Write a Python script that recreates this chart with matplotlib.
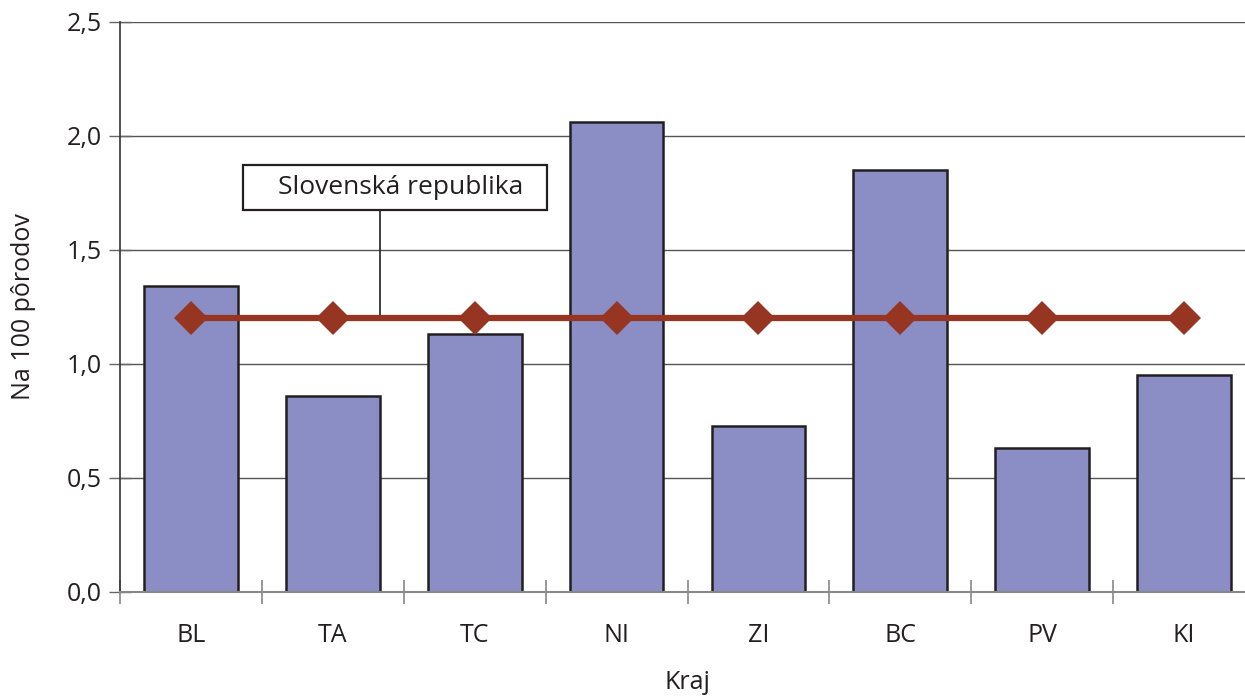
import matplotlib
matplotlib.use("Agg")
import matplotlib.pyplot as plt
from matplotlib.ticker import FuncFormatter
from matplotlib.patches import Rectangle

categories = ["BL", "TA", "TC", "NI", "ZI", "BC", "PV", "KI"]
values = [1.34, 0.86, 1.13, 2.06, 0.73, 1.85, 0.63, 0.95]
national = [1.2] * len(categories)
yticks = [0.0, 0.5, 1.0, 1.5, 2.0, 2.5]
label_text = "Slovenská republika"

plt.rcParams['font.family'] = ['Open Sans', 'DejaVu Sans']

fig = plt.figure(figsize=(12.45, 6.97), dpi=100)
ax = fig.add_axes([120/1245, 1-592/697, 1135/1245, (592-22)/697])

x = list(range(len(categories)))
ax.bar(x, values, width=0.66, color="#8A8EC4", edgecolor="#231f20", linewidth=1.8, zorder=2)
ax.plot(x, national, color="#963622", linewidth=4.5, marker="D", markersize=17,
        markeredgewidth=0, zorder=3)

ax.set_xlim(-0.5, len(categories) - 0.5)
ax.set_ylim(0, 2.5)
ax.set_yticks(yticks)
ax.yaxis.set_major_formatter(FuncFormatter(lambda v, p: f"{v:.1f}".replace(".", ",")))
ax.set_xticks(x)
ax.set_xticklabels(categories)
ax.set_xticks([i + 0.5 for i in range(-1, len(categories))], minor=True)

ax.grid(axis="y", color="#555555", linewidth=1.0, zorder=0)
ax.set_axisbelow(True)

for s in ["top", "right"]:
    ax.spines[s].set_visible(False)
ax.spines["left"].set_color("#333333")
ax.spines["left"].set_linewidth(1.2)
ax.spines["bottom"].set_color("#888888")
ax.spines["bottom"].set_linewidth(1.5)

ax.tick_params(axis="y", direction="inout", length=16, width=1.0, color="#666666",
               labelsize=18, labelcolor="#231f20", pad=5)
ax.tick_params(axis="x", which="major", length=0, labelsize=18, labelcolor="#231f20", pad=22)
ax.tick_params(axis="x", which="minor", direction="inout", length=17, width=1.2, color="#888888")

ax.set_ylabel("Na 100 pôrodov", fontsize=18, color="#231f20", labelpad=22)
ax.set_xlabel("Kraj", fontsize=18, color="#231f20", labelpad=16)

# annotation box with leader line
ax.add_patch(Rectangle((0.366, 1.675), 2.143, 0.198, facecolor="white",
                       edgecolor="#231f20", linewidth=1.6, zorder=4))
ax.text(1.48, 1.772, label_text, ha="center", va="center", fontsize=19,
        color="#231f20", zorder=5)
ax.plot([1.332, 1.332], [1.675, 1.2], color="#231f20", linewidth=1.2, zorder=2.5)

fig.savefig("out.png", dpi=100)
